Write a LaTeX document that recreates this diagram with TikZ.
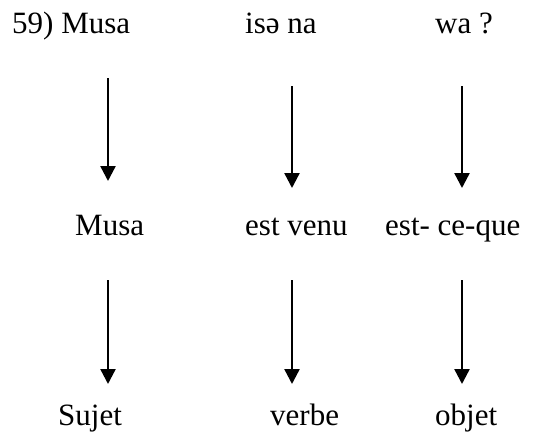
\documentclass[tikz,border=0pt]{standalone}
\usepackage{fontspec}
\setmainfont{Liberation Serif}
\usetikzlibrary{arrows.meta, positioning}

\tikzset{
    word/.style={anchor=base west, inner sep=0pt, font=\fontsize{31}{36}\selectfont},
    down/.style={line width=2.4pt, -{Triangle[width=15pt, length=15pt]}}
}

\begin{document}
\begin{tikzpicture}[x=1pt, y=-1pt]
    \useasboundingbox (0, 0) rectangle (538, 442);

    % Source sentence
    \node[word] (src1) at (12, 33) {59) Musa};
    \node[word] (src2) at (245, 33) {isə na};
    \node[word] (src3) at (435, 33) {wa ?};

    % Gloss
    \node[word] (gl1) at (75, 235) {Musa};
    \node[word] (gl2) at (245, 235) {est venu};
    \node[word] (gl3) at (385, 235) {est- ce-que};

    % Function
    \node[word] (fn1) at (58, 425) {Sujet};
    \node[word] (fn2) at (270, 425) {verbe};
    \node[word] (fn3) at (435, 425) {objet};

    % Arrow ends
    \coordinate (a1t) at (108, 78);
    \coordinate (a1b) at (108, 181);
    \coordinate (a2t) at (292, 86);
    \coordinate (a2b) at (292, 188);
    \coordinate (a3t) at (462, 86);
    \coordinate (a3b) at (462, 188);
    \coordinate (b1t) at (108, 280);
    \coordinate (b1b) at (108, 384);
    \coordinate (b2t) at (292, 280);
    \coordinate (b2b) at (292, 384);
    \coordinate (b3t) at (462, 280);
    \coordinate (b3b) at (462, 384);

    \draw[down] (a1t) -- (a1b);
    \draw[down] (a2t) -- (a2b);
    \draw[down] (a3t) -- (a3b);
    \draw[down] (b1t) -- (b1b);
    \draw[down] (b2t) -- (b2b);
    \draw[down] (b3t) -- (b3b);
\end{tikzpicture}
\end{document}
